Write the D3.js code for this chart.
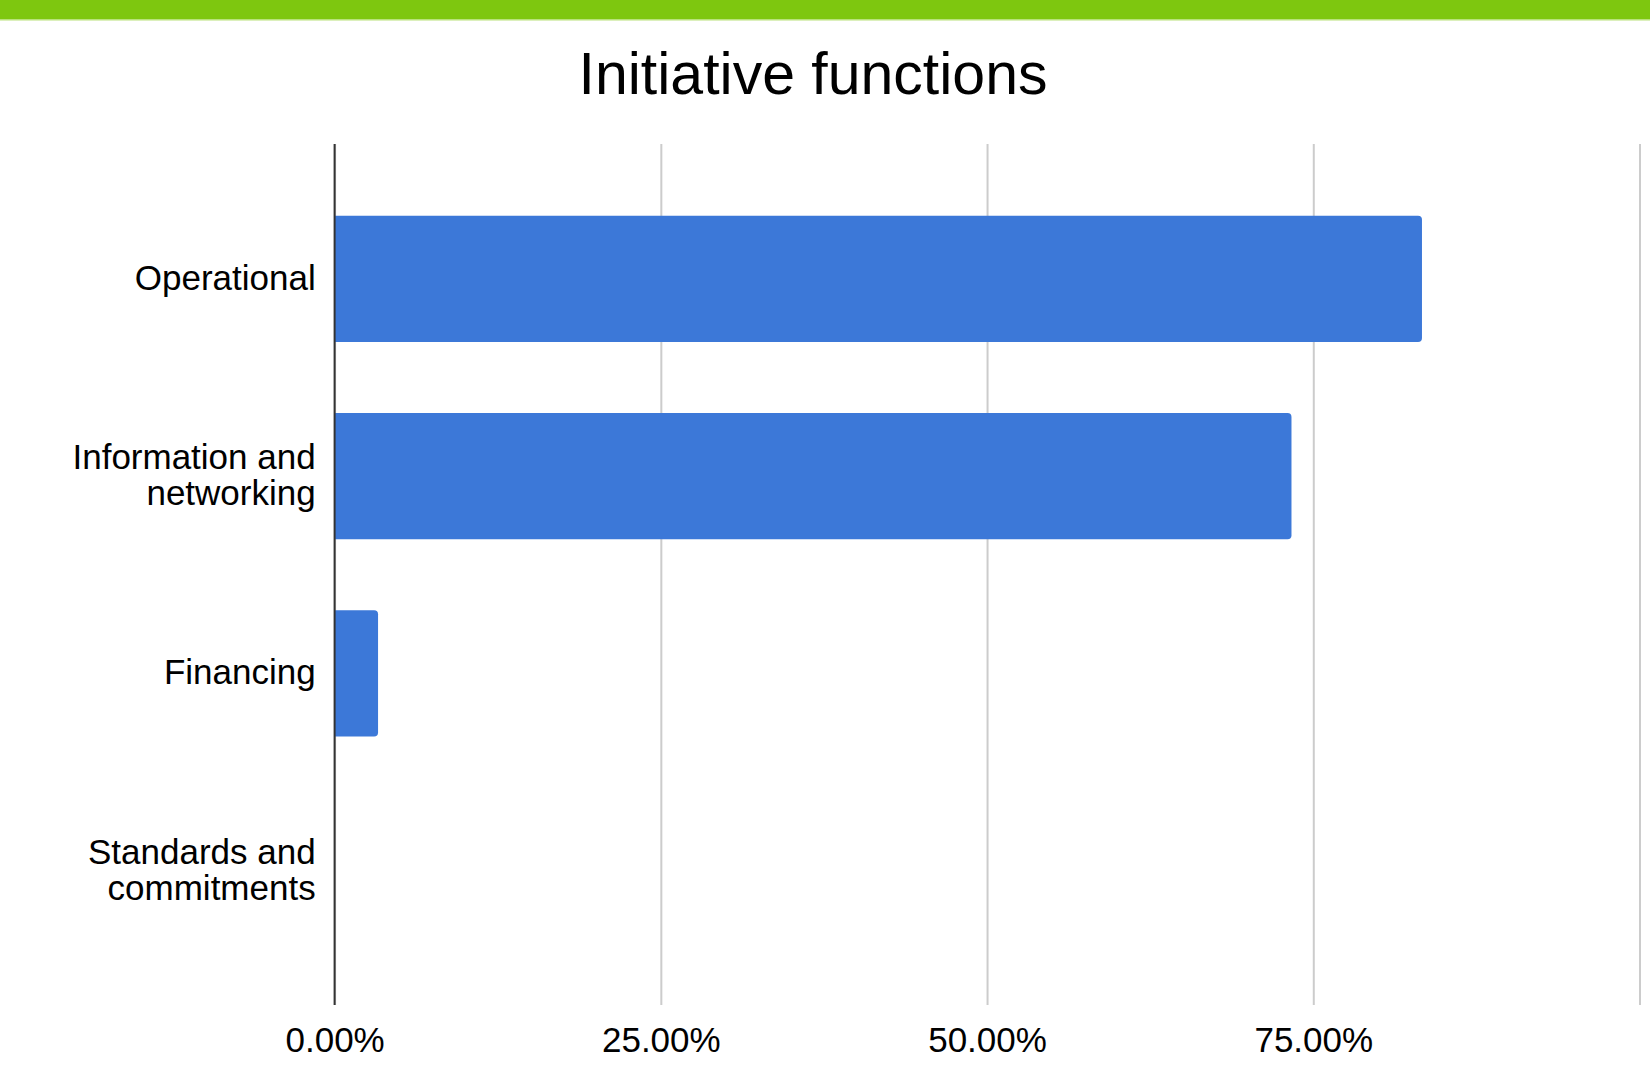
<!DOCTYPE html>
<html>
<head>
<meta charset="utf-8">
<script src="https://cdn.jsdelivr.net/npm/d3@7"></script>
<style>
  body { margin: 0; background: #fff; }
  svg { display: block; font-family: "Liberation Sans", Arial, sans-serif; }
</style>
</head>
<body>
<div id="chart"></div>
<script>
// ---- data ----
const categories = ["Operational", "Information and networking", "Financing", "Standards and commitments"];
const shares = [0.8333, 0.7333, 0.0333, 0];
const gridTicks = [0, 0.25, 0.5, 0.75, 1];
const labelTicks = [0, 0.25, 0.5, 0.75];

// ---- layout ----
const width = 1650, height = 1071;
const plot = { left: 334.6, right: 1639.5, top: 144, bottom: 1005 };
const barColor = "#3c78d8";

const svg = d3.select("#chart").append("svg")
    .attr("width", width)
    .attr("height", height);

// green strip on top
svg.append("rect").attr("x", 0).attr("y", 0).attr("width", width).attr("height", 19).attr("fill", "#7ec70f");
svg.append("rect").attr("x", 0).attr("y", 19).attr("width", width).attr("height", 1.5).attr("fill", "#b9e27a");

// title
svg.append("text")
    .text("Initiative functions")
    .attr("x", 813)
    .attr("y", 94)
    .attr("text-anchor", "middle")
    .attr("font-size", 59)
    .attr("fill", "#000");

// scales
const xScale = d3.scaleLinear().domain([0, 1]).range([plot.left, plot.right]);
const yScale = d3.scaleBand()
    .domain(categories)
    .range([180.2, 969.4])
    .paddingInner(0.36)
    .paddingOuter(0.18);

// gridlines
const grid = svg.append("g")
    .attr("transform", `translate(0, ${plot.top})`)
    .call(d3.axisBottom(xScale).tickValues(gridTicks).tickSize(plot.bottom - plot.top).tickFormat(""));
grid.select(".domain").remove();
grid.selectAll("line").attr("stroke", "#cccccc").attr("stroke-width", 2);

// bars (rounded on the right end only)
const r = 4;
const barPath = d => {
    const x0 = xScale(0), x1 = xScale(d.value);
    const y0 = yScale(d.cat), h = yScale.bandwidth();
    const rr = Math.min(r, (x1 - x0) / 2);
    return `M${x0},${y0} H${x1 - rr} Q${x1},${y0} ${x1},${y0 + rr} V${y0 + h - rr} Q${x1},${y0 + h} ${x1 - rr},${y0 + h} H${x0} Z`;
};
svg.append("g")
    .selectAll("path")
    .data(categories.map((c, i) => ({ cat: c, value: shares[i] })).filter(d => d.value > 0))
    .join("path")
    .attr("d", barPath)
    .attr("fill", barColor);

// zero axis line
svg.append("line")
    .attr("x1", xScale(0)).attr("x2", xScale(0))
    .attr("y1", plot.top).attr("y2", plot.bottom)
    .attr("stroke", "#333").attr("stroke-width", 2);

// x tick labels
const xAxis = svg.append("g")
    .attr("transform", `translate(0, ${plot.bottom})`)
    .call(d3.axisBottom(xScale).tickValues(labelTicks).tickSize(0).tickPadding(22).tickFormat(d3.format(".2%")));
xAxis.select(".domain").remove();
xAxis.selectAll("text").attr("font-size", 35).attr("fill", "#000").attr("font-family", "Liberation Sans, Arial, sans-serif");

// y category labels, wrapped to two lines when too wide
const labelX = 315.7, maxLabelWidth = 250, lineHeight = 36;
const labels = svg.append("g")
    .selectAll("text")
    .data(categories)
    .join("text")
    .attr("text-anchor", "end")
    .attr("font-size", 35)
    .attr("fill", "#000");

labels.each(function(cat) {
    const text = d3.select(this);
    const words = cat.split(" ");
    const lines = [];
    let line = [];
    words.forEach(w => {
        line.push(w);
        text.text(line.join(" "));
        if (this.getComputedTextLength() > maxLabelWidth && line.length > 1) {
            line.pop();
            lines.push(line.join(" "));
            line = [w];
        }
    });
    lines.push(line.join(" "));
    text.text(null);
    const cy = yScale(cat) + yScale.bandwidth() / 2 - 1.5;
    lines.forEach((l, i) => {
        text.append("tspan")
            .attr("x", labelX)
            .attr("y", cy + (i - (lines.length - 1) / 2) * lineHeight)
            .attr("dy", "0.35em")
            .text(l);
    });
});
</script>
</body>
</html>
